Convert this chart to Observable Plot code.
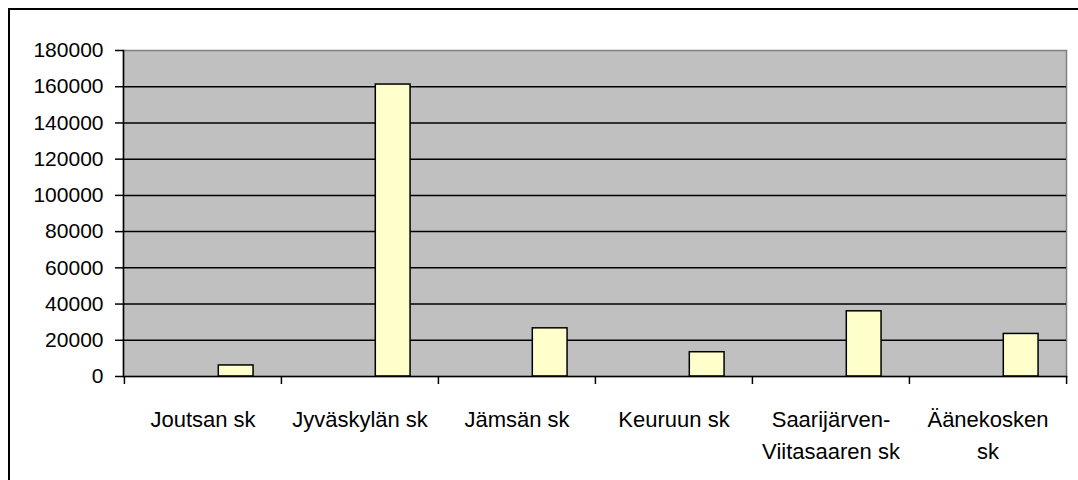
<!DOCTYPE html>
<html>
<head>
<meta charset="utf-8">
<script src="https://cdn.jsdelivr.net/npm/d3@7"></script>
<script src="https://cdn.jsdelivr.net/npm/@observablehq/plot@0.6"></script>
<style>
  html, body { margin: 0; padding: 0; background: #fff; overflow: hidden; }
  #wrap { position: relative; width: 1078px; height: 480px; overflow: hidden; }
  #border { position: absolute; left: 8px; top: 8px; width: 1100px; height: 500px; border: 2px solid #000; pointer-events: none; }
</style>
</head>
<body>
<div id="wrap"><div id="border"></div></div>
<script>
const categories = ["Joutsan sk", "Jyväskylän sk", "Jämsän sk", "Keuruun sk", "Saarijärven-Viitasaaren sk", "Äänekosken sk"];
const tickLabels = ["Joutsan sk", "Jyväskylän sk", "Jämsän sk", "Keuruun sk", "Saarijärven-\nViitasaaren sk", "Äänekosken\nsk"];
const values = [6100, 161200, 26600, 13400, 36000, 23500];
const yTicks = [0, 20000, 40000, 60000, 80000, 100000, 120000, 140000, 160000, 180000];

const width = 1078, height = 480;
const marginLeft = 123, marginRight = 12, marginTop = 50, marginBottom = 104;
const bw = (width - marginLeft - marginRight) / categories.length;
const step = bw / 4.5; // three series slots + gap, only third slot filled

const data = categories.map((c, i) => ({category: c, value: values[i]}));
const labelOf = new Map(categories.map((c, i) => [c, tickLabels[i]]));

const chart = Plot.plot({
  width, height, marginLeft, marginRight, marginTop, marginBottom,
  style: {fontFamily: "'Liberation Sans', Arial, sans-serif", fontSize: "21px", background: "#fff", color: "#000", overflow: "visible"},
  x: {domain: categories, padding: 0, label: null},
  y: {domain: [0, 180000], label: null},
  marks: [
    Plot.frame({fill: "#c0c0c0", stroke: "#808080", strokeWidth: 1.5}),
    Plot.ruleY(yTicks.filter(d => d > 0 && d < 180000), {stroke: "#000", strokeWidth: 1.5}),
    Plot.barY(data, {x: "category", y: "value", fill: "#ffffcc", stroke: "#000", strokeWidth: 1.5,
      insetLeft: 2.7 * step, insetRight: 0.8 * step}),
    Plot.frame({anchor: "left", stroke: "#000", strokeWidth: 1.5}),
    Plot.frame({anchor: "bottom", stroke: "#000", strokeWidth: 1.5}),
    Plot.axisY(yTicks, {label: null, tickSize: 8, tickPadding: 12, fontSize: 21, tickFormat: d => String(d), strokeWidth: 1.5}),
    Plot.axisX(categories, {label: null, tickSize: 8, dx: -bw / 2, tickFormat: () => "", strokeWidth: 1.5}),
    Plot.axisX([categories[categories.length - 1]], {label: null, tickSize: 8, dx: bw / 2, tickFormat: () => "", strokeWidth: 1.5}),
    Plot.axisX(categories, {label: null, tickSize: 0, tickPadding: 28, fontSize: 22, lineHeight: 1.45, tickFormat: d => labelOf.get(d)})
  ]
});
document.getElementById("wrap").prepend(chart);
</script>
</body>
</html>
